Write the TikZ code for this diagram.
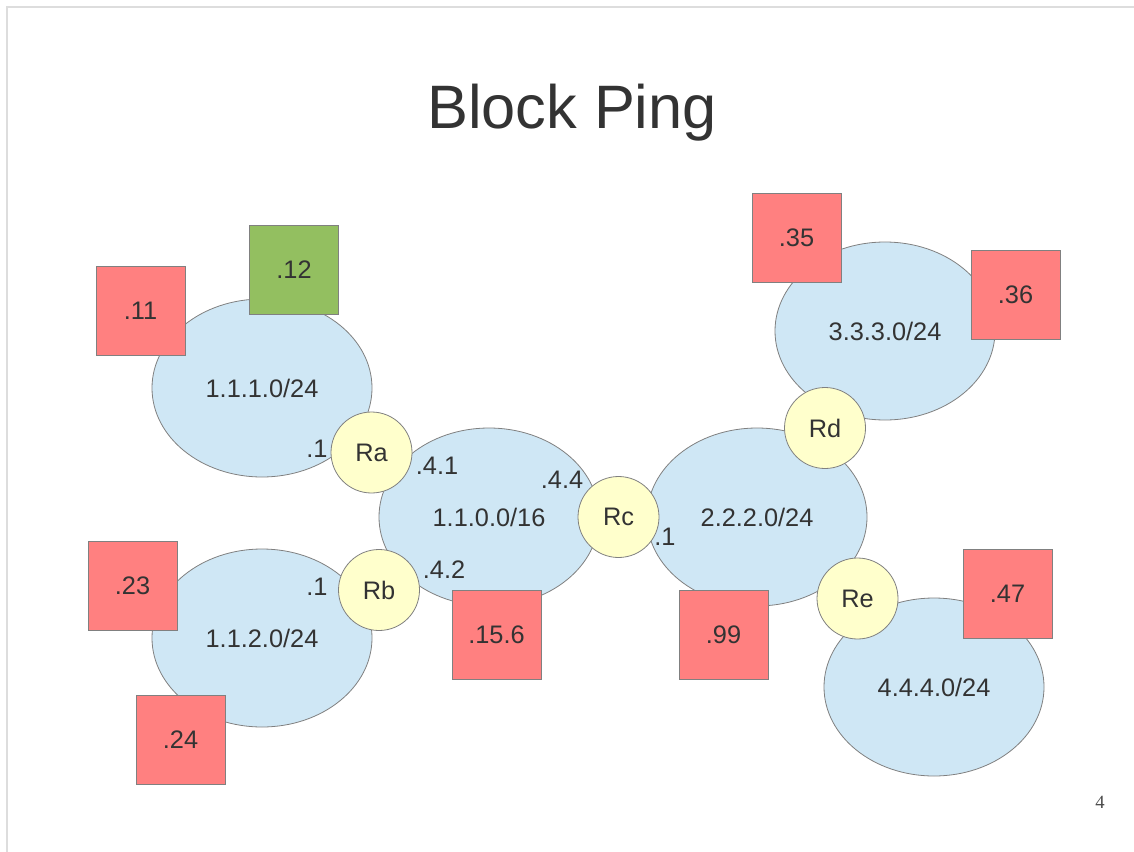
\documentclass[tikz,border=0pt]{standalone}
\usepackage{fontspec}
\setmainfont{Liberation Sans}
\newfontfamily\pagefont{Liberation Serif}
\usetikzlibrary{shapes.geometric}
\definecolor{netfill}{HTML}{CFE7F5}
\definecolor{rtrfill}{HTML}{FFFFCC}
\definecolor{hostred}{HTML}{FF8080}
\definecolor{hostgreen}{HTML}{93BF60}
\definecolor{edge}{HTML}{808080}
\definecolor{ink}{HTML}{333333}
\definecolor{frame}{HTML}{DDDDDD}
% one drawing unit is one pixel of the slide (0.75pt)
\tikzset{
  lbl/.style={font=\fontsize{19}{22}\selectfont, text=ink},
  net/.style={ellipse, draw=edge, fill=netfill, line width=0.6pt,
              minimum width=165pt, minimum height=133.5pt, inner sep=0pt, lbl},
  router/.style={circle, draw=edge, fill=rtrfill, line width=0.6pt,
                 minimum size=60.75pt, inner sep=0pt, lbl},
  host/.style={rectangle, draw=edge, fill=hostred, line width=0.6pt,
               minimum size=66.75pt, inner sep=0pt, lbl},
  okhost/.style={host, fill=hostgreen},
  addr/.style={lbl, inner sep=0pt}
}
\begin{document}
\begin{tikzpicture}[x=0.75pt, y=-0.75pt]
\useasboundingbox (0,0) rectangle (1134,852);
\fill[white] (0,0) rectangle (1134,852);
% slide frame
\draw[frame, line width=1.5pt] (7,852) -- (7,7) -- (1134,7);

% title and page number
\node[font=\fontsize{46}{50}\selectfont, text=ink] (title) at (572,113) {Block Ping};
\node[font=\pagefont\fontsize{14}{16}\selectfont, text=black!70] (pagenum) at (1100,802) {4};

% networks
\node[net] (n111) at (262,388) {1.1.1.0/24};
\node[net] (n112) at (262,638) {1.1.2.0/24};
\node[net] (n110) at (489,517) {1.1.0.0/16};
\node[net] (n222) at (757,517) {2.2.2.0/24};
\node[net] (n333) at (885,331) {3.3.3.0/24};
\node[net] (n444) at (934,687) {4.4.4.0/24};

% hosts
\node[host]   (h11)  at (140.5,310.5) {.11};
\node[okhost] (h12)  at (294,270)     {.12};
\node[host]   (h23)  at (132.5,586)   {.23};
\node[host]   (h24)  at (180.5,739.5) {.24};
\node[host]   (h156) at (496.5,635)   {.15.6};
\node[host]   (h99)  at (723.5,634.5) {.99};
\node[host]   (h35)  at (796.5,237.5) {.35};
\node[host]   (h36)  at (1015.5,294.5){.36};
\node[host]   (h47)  at (1007.5,593.5){.47};

% routers
\node[router] (Ra) at (371.5,452.5) {Ra};
\node[router] (Rb) at (379,590)     {Rb};
\node[router] (Rc) at (618.5,517)   {Rc};
\node[router] (Rd) at (825,428)     {Rd};
\node[router] (Re) at (857.5,598.5) {Re};

% interface addresses
\node[addr] (a1)  at (317,449) {.1};
\node[addr] (a41) at (437,466) {.4.1};
\node[addr] (a44) at (562,480) {.4.4};
\node[addr] (a2)  at (317,587) {.1};
\node[addr] (a42) at (444,570) {.4.2};
\node[addr] (a3)  at (665,537) {.1};
\end{tikzpicture}
\end{document}
